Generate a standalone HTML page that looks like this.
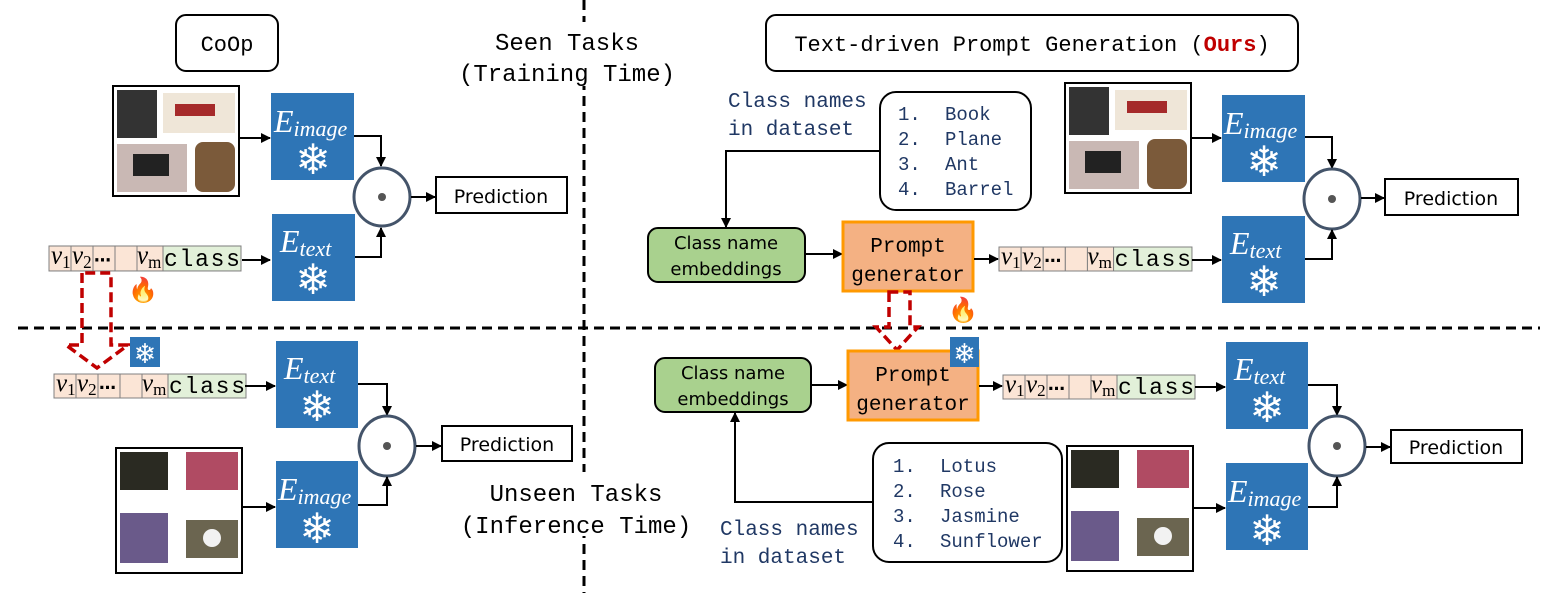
<!DOCTYPE html>
<html><head><meta charset="utf-8"><style>
html,body{margin:0;padding:0;background:#fff;}
svg{display:block;}
.mono{font-family:"Liberation Mono",monospace;}
.sans{font-family:"DejaVu Sans","Liberation Sans",sans-serif;}
.ser{font-family:"Liberation Serif",serif;font-style:italic;}
</style></head><body>
<svg width="1555" height="593" viewBox="0 0 1555 593" xmlns="http://www.w3.org/2000/svg">
<defs>
<marker id="ah" markerWidth="10" markerHeight="10" refX="9" refY="5" orient="auto" markerUnits="userSpaceOnUse"><path d="M0,0 L10,5 L0,10 z" fill="#000"/></marker>
<g id="tok">
<rect x="0" y="0" width="22" height="24" fill="#fbe5d6" stroke="#808080"/>
<rect x="22" y="0" width="22" height="24" fill="#fbe5d6" stroke="#808080"/>
<rect x="44" y="0" width="22" height="24" fill="#fbe5d6" stroke="#808080"/>
<rect x="66" y="0" width="22" height="24" fill="#fbe5d6" stroke="#808080"/>
<rect x="88" y="0" width="26" height="24" fill="#fbe5d6" stroke="#808080"/>
<rect x="114" y="0" width="78" height="24" fill="#e2f0d9" stroke="#808080"/>
<text x="2" y="17" font-family="Liberation Serif" font-style="italic" font-size="25">v<tspan font-size="17" font-style="normal" dy="4">1</tspan></text>
<text x="23" y="17" font-family="Liberation Serif" font-style="italic" font-size="25">v<tspan font-size="17" font-style="normal" dy="4">2</tspan></text>
<text x="45" y="15" font-family="DejaVu Sans" font-weight="bold" font-size="17">…</text>
<text x="88" y="17" font-family="Liberation Serif" font-style="italic" font-size="25">v<tspan font-size="17" font-style="normal" dy="4">m</tspan></text>
<text x="115" y="19" font-family="Liberation Mono" font-size="23" textLength="76">class</text>
</g>
<g id="snow"><text x="0" y="0" text-anchor="middle" font-family="DejaVu Sans" font-size="42" fill="#fff">❄</text></g>
<g id="imgs">
<rect x="0" y="0" width="126" height="110" fill="#fff" stroke="#000" stroke-width="2"/>
<rect x="4" y="4" width="40" height="48" fill="#333"/>
<rect x="50" y="7" width="72" height="40" fill="#efe6d8"/>
<rect x="62" y="18" width="40" height="12" fill="#a52a2a"/>
<rect x="4" y="58" width="70" height="48" fill="#c9b8b4"/>
<rect x="20" y="68" width="36" height="22" fill="#222"/>
<rect x="82" y="56" width="40" height="50" rx="8" fill="#7b5a3a"/>
</g>
<g id="flw">
<rect x="0" y="0" width="126" height="125" fill="#fff" stroke="#000" stroke-width="2"/>
<rect x="4" y="4" width="48" height="38" fill="#2a2a22"/>
<rect x="70" y="4" width="52" height="38" fill="#b04b63"/>
<rect x="4" y="65" width="48" height="50" fill="#6a5a8a"/>
<rect x="70" y="72" width="52" height="38" fill="#6b6550"/>
<circle cx="96" cy="90" r="9" fill="#f2f2f2"/>
</g>
</defs>

<line x1="584" y1="0" x2="584" y2="593" stroke="#000" stroke-width="3" stroke-dasharray="10,6"/>
<line x1="18" y1="328" x2="1540" y2="328" stroke="#000" stroke-width="3" stroke-dasharray="10,6"/>

<rect x="176" y="15" width="102" height="56" rx="10" fill="#fff" stroke="#000" stroke-width="2"/>
<text x="227" y="51" text-anchor="middle" class="mono" font-size="22">CoOp</text>
<rect x="486" y="22" width="196" height="64" fill="#fff"/>
<text x="567" y="50" text-anchor="middle" class="mono" font-size="24">Seen Tasks</text>
<text x="567" y="81" text-anchor="middle" class="mono" font-size="24">(Training Time)</text>
<rect x="766" y="15" width="532" height="56" rx="10" fill="#fff" stroke="#000" stroke-width="2"/>
<text x="1032" y="51" text-anchor="middle" class="mono" font-size="22">Text-driven Prompt Generation (<tspan fill="#c00000" font-weight="bold">Ours</tspan>)</text>

<!-- LEFT TOP -->
<use href="#imgs" transform="translate(113,86)"/>
<line x1="240" y1="138" x2="270" y2="138" stroke="#000" stroke-width="2" marker-end="url(#ah)"/>
<rect x="271" y="93" width="83" height="87" fill="#2e75b6"/>
<text x="274" y="132" class="ser" font-size="32" fill="#fff">E<tspan font-size="22" dy="4">image</tspan></text>
<use href="#snow" transform="translate(313,174)"/>
<polyline points="354,136 381,136 381,166" fill="none" stroke="#000" stroke-width="2" marker-end="url(#ah)"/>
<ellipse cx="382" cy="197" rx="28" ry="29" fill="#fff" stroke="#44546a" stroke-width="3"/>
<circle cx="382" cy="197" r="4" fill="#555"/>
<line x1="411" y1="197" x2="435" y2="197" stroke="#000" stroke-width="2" marker-end="url(#ah)"/>
<rect x="436" y="177" width="131" height="36" fill="#fff" stroke="#000" stroke-width="2"/>
<text x="501" y="203" text-anchor="middle" class="sans" font-size="19">Prediction</text>
<use href="#tok" transform="translate(49,246) scale(1.0,1.04)"/>
<line x1="242" y1="260" x2="270" y2="260" stroke="#000" stroke-width="2" marker-end="url(#ah)"/>
<rect x="272" y="214" width="83" height="87" fill="#2e75b6"/>
<text x="280" y="252" class="ser" font-size="32" fill="#fff">E<tspan font-size="22" dy="4">text</tspan></text>
<use href="#snow" transform="translate(313,294)"/>
<polyline points="355,257 381,257 381,228" fill="none" stroke="#000" stroke-width="2" marker-end="url(#ah)"/>
<text x="143" y="298" text-anchor="middle" font-family="DejaVu Sans" font-size="24" fill="#f4731f">🔥</text>
<path d="M82,273 L82,345 L66,345 L97,368 L128,345 L111,345 L111,273 Z" fill="none" stroke="#c00000" stroke-width="3.5" stroke-dasharray="10,5"/>
<rect x="130" y="337" width="30" height="30" fill="#2e75b6"/>
<use href="#snow" transform="translate(145,363) scale(0.65)"/>

<!-- LEFT BOTTOM -->
<use href="#tok" transform="translate(54,374)"/>
<line x1="245" y1="386" x2="275" y2="386" stroke="#000" stroke-width="2" marker-end="url(#ah)"/>
<rect x="276" y="341" width="82" height="87" fill="#2e75b6"/>
<text x="284" y="379" class="ser" font-size="32" fill="#fff">E<tspan font-size="22" dy="4">text</tspan></text>
<use href="#snow" transform="translate(317,421)"/>
<polyline points="358,384 387,384 387,415" fill="none" stroke="#000" stroke-width="2" marker-end="url(#ah)"/>
<ellipse cx="387" cy="446" rx="28" ry="30" fill="#fff" stroke="#44546a" stroke-width="3"/>
<circle cx="387" cy="446" r="4" fill="#555"/>
<line x1="416" y1="446" x2="441" y2="446" stroke="#000" stroke-width="2" marker-end="url(#ah)"/>
<rect x="442" y="426" width="130" height="35" fill="#fff" stroke="#000" stroke-width="2"/>
<text x="507" y="451" text-anchor="middle" class="sans" font-size="19">Prediction</text>
<use href="#flw" transform="translate(116,448)"/>
<line x1="242" y1="507" x2="275" y2="507" stroke="#000" stroke-width="2" marker-end="url(#ah)"/>
<rect x="276" y="461" width="82" height="87" fill="#2e75b6"/>
<text x="278" y="500" class="ser" font-size="32" fill="#fff">E<tspan font-size="22" dy="4">image</tspan></text>
<use href="#snow" transform="translate(317,543)"/>
<polyline points="358,505 387,505 387,477" fill="none" stroke="#000" stroke-width="2" marker-end="url(#ah)"/>
<rect x="482" y="472" width="196" height="64" fill="#fff"/>
<text x="576" y="501" text-anchor="middle" class="mono" font-size="24">Unseen Tasks</text>
<text x="576" y="533" text-anchor="middle" class="mono" font-size="24">(Inference Time)</text>

<!-- RIGHT TOP -->
<text x="728" y="107" class="mono" font-size="21" fill="#203864">Class names</text>
<text x="728" y="135" class="mono" font-size="21" fill="#203864">in dataset</text>
<rect x="880" y="92" width="151" height="118" rx="16" fill="#fff" stroke="#000" stroke-width="2"/>
<g class="mono" font-size="19" fill="#203864">
<text x="898" y="120">1.</text><text x="945" y="120">Book</text>
<text x="898" y="145">2.</text><text x="945" y="145">Plane</text>
<text x="898" y="170">3.</text><text x="945" y="170">Ant</text>
<text x="898" y="195">4.</text><text x="945" y="195">Barrel</text>
</g>
<polyline points="880,151 726,151 726,227" fill="none" stroke="#000" stroke-width="2" marker-end="url(#ah)"/>
<rect x="648" y="228" width="157" height="54" rx="10" fill="#a9d18e" stroke="#000" stroke-width="2"/>
<text x="726" y="249" text-anchor="middle" class="sans" font-size="18">Class name</text>
<text x="726" y="275" text-anchor="middle" class="sans" font-size="18">embeddings</text>
<line x1="805" y1="254" x2="842" y2="254" stroke="#000" stroke-width="2" marker-end="url(#ah)"/>
<rect x="843" y="222" width="130" height="69" fill="#f4b183" stroke="#ff9900" stroke-width="3"/>
<text x="908" y="252" text-anchor="middle" class="mono" font-size="21">Prompt</text>
<text x="908" y="281" text-anchor="middle" class="mono" font-size="21">generator</text>
<line x1="974" y1="259" x2="998" y2="259" stroke="#000" stroke-width="2" marker-end="url(#ah)"/>
<use href="#tok" transform="translate(999,247) scale(1.005,1)"/>
<line x1="1192" y1="260" x2="1221" y2="260" stroke="#000" stroke-width="2" marker-end="url(#ah)"/>
<text x="963" y="318" text-anchor="middle" font-family="DejaVu Sans" font-size="24" fill="#f4731f">🔥</text>
<path d="M889,292 L889,327 L876,327 L897,350 L918,327 L910,327 L910,292 Z" fill="none" stroke="#c00000" stroke-width="3.5" stroke-dasharray="10,5"/>
<use href="#imgs" transform="translate(1065,83)"/>
<line x1="1191" y1="138" x2="1221" y2="138" stroke="#000" stroke-width="2" marker-end="url(#ah)"/>
<rect x="1222" y="95" width="83" height="87" fill="#2e75b6"/>
<text x="1224" y="134" class="ser" font-size="32" fill="#fff">E<tspan font-size="22" dy="4">image</tspan></text>
<use href="#snow" transform="translate(1264,176)"/>
<polyline points="1305,137 1332,137 1332,168" fill="none" stroke="#000" stroke-width="2" marker-end="url(#ah)"/>
<ellipse cx="1332" cy="199" rx="28" ry="30" fill="#fff" stroke="#44546a" stroke-width="3"/>
<circle cx="1332" cy="199" r="4" fill="#555"/>
<line x1="1361" y1="198" x2="1384" y2="198" stroke="#000" stroke-width="2" marker-end="url(#ah)"/>
<rect x="1385" y="179" width="133" height="36" fill="#fff" stroke="#000" stroke-width="2"/>
<text x="1451" y="205" text-anchor="middle" class="sans" font-size="19">Prediction</text>
<rect x="1222" y="216" width="83" height="87" fill="#2e75b6"/>
<text x="1230" y="254" class="ser" font-size="32" fill="#fff">E<tspan font-size="22" dy="4">text</tspan></text>
<use href="#snow" transform="translate(1264,296)"/>
<polyline points="1305,259 1332,259 1332,230" fill="none" stroke="#000" stroke-width="2" marker-end="url(#ah)"/>

<!-- RIGHT BOTTOM -->
<rect x="655" y="358" width="156" height="54" rx="10" fill="#a9d18e" stroke="#000" stroke-width="2"/>
<text x="733" y="379" text-anchor="middle" class="sans" font-size="18">Class name</text>
<text x="733" y="405" text-anchor="middle" class="sans" font-size="18">embeddings</text>
<line x1="811" y1="385" x2="847" y2="385" stroke="#000" stroke-width="2" marker-end="url(#ah)"/>
<rect x="848" y="351" width="130" height="69" fill="#f4b183" stroke="#ff9900" stroke-width="3"/>
<text x="913" y="381" text-anchor="middle" class="mono" font-size="21">Prompt</text>
<text x="913" y="410" text-anchor="middle" class="mono" font-size="21">generator</text>
<rect x="950" y="337" width="29" height="30" fill="#2e75b6"/>
<use href="#snow" transform="translate(964.5,363) scale(0.65)"/>
<line x1="979" y1="386" x2="1002" y2="386" stroke="#000" stroke-width="2" marker-end="url(#ah)"/>
<use href="#tok" transform="translate(1003,375)"/>
<line x1="1195" y1="387" x2="1225" y2="387" stroke="#000" stroke-width="2" marker-end="url(#ah)"/>
<rect x="1226" y="342" width="82" height="87" fill="#2e75b6"/>
<text x="1234" y="380" class="ser" font-size="32" fill="#fff">E<tspan font-size="22" dy="4">text</tspan></text>
<use href="#snow" transform="translate(1267,422)"/>
<polyline points="1308,385 1337,385 1337,415" fill="none" stroke="#000" stroke-width="2" marker-end="url(#ah)"/>
<ellipse cx="1337" cy="446" rx="28" ry="30" fill="#fff" stroke="#44546a" stroke-width="3"/>
<circle cx="1337" cy="446" r="4" fill="#555"/>
<line x1="1366" y1="447" x2="1390" y2="447" stroke="#000" stroke-width="2" marker-end="url(#ah)"/>
<rect x="1391" y="430" width="131" height="33" fill="#fff" stroke="#000" stroke-width="2"/>
<text x="1456" y="454" text-anchor="middle" class="sans" font-size="19">Prediction</text>
<rect x="873" y="443" width="189" height="119" rx="16" fill="#fff" stroke="#000" stroke-width="2"/>
<g class="mono" font-size="19" fill="#203864">
<text x="893" y="472">1.</text><text x="940" y="472">Lotus</text>
<text x="893" y="497">2.</text><text x="940" y="497">Rose</text>
<text x="893" y="522">3.</text><text x="940" y="522">Jasmine</text>
<text x="893" y="547">4.</text><text x="940" y="547">Sunflower</text>
</g>
<polyline points="873,502 735,502 735,413" fill="none" stroke="#000" stroke-width="2" marker-end="url(#ah)"/>
<text x="720" y="535" class="mono" font-size="21" fill="#203864">Class names</text>
<text x="720" y="563" class="mono" font-size="21" fill="#203864">in dataset</text>
<use href="#flw" transform="translate(1067,446)"/>
<line x1="1193" y1="508" x2="1225" y2="508" stroke="#000" stroke-width="2" marker-end="url(#ah)"/>
<rect x="1226" y="463" width="82" height="87" fill="#2e75b6"/>
<text x="1228" y="502" class="ser" font-size="32" fill="#fff">E<tspan font-size="22" dy="4">image</tspan></text>
<use href="#snow" transform="translate(1267,545)"/>
<polyline points="1308,507 1337,507 1337,477" fill="none" stroke="#000" stroke-width="2" marker-end="url(#ah)"/>
</svg>
</body></html>
